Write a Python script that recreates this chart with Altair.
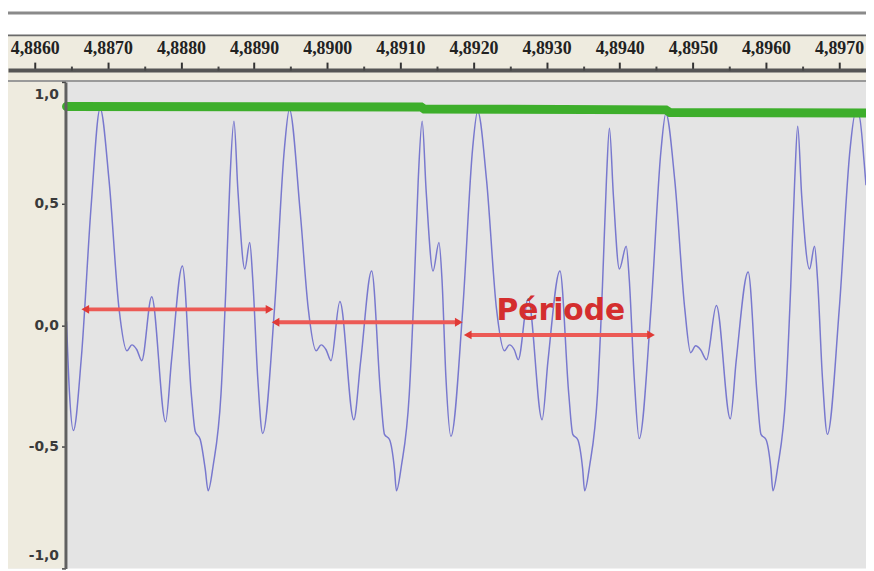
import altair as alt
import pandas as pd

# ---------------- data ----------------
wave_t = [
    4.886434, 4.886474, 4.886528, 4.886637, 4.886772, 4.886894,
    4.887016, 4.887152, 4.887260, 4.887328, 4.887396, 4.887463, 4.887599, 4.887789,
    4.887870, 4.888019, 4.888141, 4.888195, 4.888263, 4.888331, 4.888371, 4.888439,
    4.888547, 4.888615, 4.888669, 4.888724, 4.888778, 4.888873, 4.888940, 4.888981,
    4.889049, 4.889117, 4.889279, 4.889415, 4.889482,
    4.889631, 4.889740, 4.889848, 4.889916, 4.889984, 4.890051, 4.890173, 4.890363,
    4.890458, 4.890607, 4.890729, 4.890783, 4.890851, 4.890919, 4.890946, 4.891014,
    4.891122, 4.891190, 4.891244, 4.891298, 4.891352, 4.891447, 4.891528, 4.891569,
    4.891623, 4.891691, 4.891854, 4.891989, 4.892057,
    4.892179, 4.892314, 4.892423, 4.892490, 4.892558, 4.892612, 4.892748, 4.892938,
    4.893019, 4.893182, 4.893303, 4.893358, 4.893425, 4.893493, 4.893520, 4.893588,
    4.893696, 4.893764, 4.893818, 4.893859, 4.893913, 4.893995, 4.894089, 4.894130,
    4.894198, 4.894266, 4.894428, 4.894564, 4.894631,
    4.894753, 4.894889, 4.894970, 4.895038, 4.895106, 4.895187, 4.895322, 4.895512,
    4.895593, 4.895756, 4.895878, 4.895932, 4.896000, 4.896068, 4.896095, 4.896163,
    4.896271, 4.896339, 4.896393, 4.896434, 4.896488, 4.896596, 4.896664, 4.896705,
    4.896772, 4.896840, 4.897003, 4.897152, 4.897219, 4.897274, 4.897341, 4.897368,
]
wave_v = [
    0.016, -0.275, -0.433, -0.134, 0.494, 0.891,
    0.595, 0.069, -0.105, -0.081, -0.101, -0.146, 0.117, -0.397,
    -0.146, 0.243, -0.283, -0.437, -0.470, -0.591, -0.681, -0.579,
    -0.283, 0.162, 0.595, 0.838, 0.555, 0.231, 0.340, 0.190,
    -0.215, -0.445, 0.069, 0.729, 0.887,
    0.462, 0.069, -0.105, -0.081, -0.101, -0.146, 0.097, -0.389,
    -0.146, 0.223, -0.283, -0.449, -0.470, -0.591, -0.681, -0.579,
    -0.283, 0.162, 0.595, 0.838, 0.555, 0.223, 0.340, 0.190,
    -0.215, -0.457, 0.069, 0.729, 0.879,
    0.595, 0.069, -0.105, -0.081, -0.101, -0.142, 0.109, -0.389,
    -0.146, 0.223, -0.283, -0.449, -0.470, -0.591, -0.681, -0.579,
    -0.283, 0.162, 0.595, 0.810, 0.534, 0.231, 0.324, 0.190,
    -0.215, -0.466, 0.069, 0.717, 0.870,
    0.595, 0.069, -0.113, -0.085, -0.101, -0.142, 0.081, -0.385,
    -0.146, 0.219, -0.283, -0.449, -0.470, -0.591, -0.681, -0.579,
    -0.283, 0.162, 0.595, 0.818, 0.534, 0.231, 0.324, 0.190,
    -0.215, -0.449, 0.069, 0.729, 0.866, 0.860, 0.676, 0.575,
]

green_t = [4.886434, 4.891285, 4.891325, 4.894631, 4.894686, 4.897368]
green_v = [0.899, 0.897, 0.889, 0.885, 0.874, 0.872]

arrow_start = [4.886691, 4.889293, 4.891921]
arrow_end = [4.889211, 4.891799, 4.894428]
arrow_v = [0.065, 0.012, -0.040]

label_text = ["Période"]
label_t = [4.893195]
label_v = [0.020]

x_major = [4.886, 4.887, 4.888, 4.889, 4.890, 4.891, 4.892, 4.893, 4.894, 4.895, 4.896, 4.897]
x_minor = [4.8865, 4.8875, 4.8885, 4.8895, 4.8905, 4.8915, 4.8925, 4.8935, 4.8945, 4.8955, 4.8965]
y_ticks = [-1.0, -0.5, 0.0, 0.5, 1.0]

X_DOMAIN = [4.885634, 4.897368]
Y_DOMAIN = [-1.0, 1.0]

# ---------------- layout ----------------
W, H = 866, 491
TOP = 72

wave_df = pd.DataFrame({"t": wave_t, "v": wave_v})
green_df = pd.DataFrame({"t": green_t, "v": green_v})
arrow_df = pd.DataFrame({"t": arrow_start, "t2": arrow_end, "v": arrow_v})
heads_df = pd.DataFrame({
    "t": arrow_start + arrow_end,
    "v": arrow_v + arrow_v,
    "shape": ["triangle-left"] * 3 + ["triangle-right"] * 3,
})
label_df = pd.DataFrame({"t": label_t, "v": label_v, "txt": label_text})
one = pd.DataFrame({"a": [0]})

xs = alt.Scale(domain=X_DOMAIN, nice=False, zero=False)
ys = alt.Scale(domain=Y_DOMAIN, nice=False, zero=False)

major_axis = alt.Axis(
    orient="top", values=x_major, title=None, grid=False, offset=12,
    labelExpr="replace(format(datum.value, '.4f'), '.', ',')",
    tickSize=8, tickWidth=2, tickColor="#333333",
    domainColor="#555555", domainWidth=4,
    labelFont="Liberation Serif", labelFontSize=18, labelFontWeight="bold",
    labelColor="#222222", labelPadding=5, labelOverlap=False, zindex=1,
)
minor_axis = alt.Axis(
    orient="top", values=x_minor, title=None, grid=False, offset=12,
    labels=False, domain=False, tickSize=4, tickWidth=2, tickColor="#444444",
    zindex=1,
)
y_axis = alt.Axis(
    orient="left", offset=-58, values=y_ticks, title=None, grid=False,
    labelExpr="(datum.value < 0 ? '-' : '') + replace(format(abs(datum.value), '.1f'), '.', ',')",
    tickSize=4, tickWidth=1.5, tickColor="#444444",
    domainColor="#606060", domainWidth=3,
    labelFont="DejaVu Sans", labelFontSize=14, labelFontWeight="bold",
    labelColor="#3a3a3a", labelPadding=3, labelFlush=True, labelFlushOffset=-6,
    zindex=1,
)


def yenc(field="v"):
    return alt.Y(f"{field}:Q", scale=ys, axis=y_axis)


def deco(color, x0, x1, y0, y1):
    return alt.Chart(one).mark_rect(color=color).encode(
        x=alt.value(x0), x2=alt.value(x1), y=alt.value(y0), y2=alt.value(y1)
    )


left_panel = deco("#EEEBDF", 0, 58, 0, H)
ruler_bg = deco("#EEEBDF", 0, W, -47, -2)
white_box = deco("#FFFFFF", 0, W, -72, -47)
top_border = deco("#8A8A8A", 0, W, -71, -68)
ruler_top = deco("#6A6A6A", 0, W, -48, -46)
plot_top = deco("#9A9A9A", 0, W, -2, 0)

wave = alt.Chart(wave_df).mark_line(
    color="#7878CE", strokeWidth=1.5, interpolate="monotone"
).encode(
    x=alt.X("t:Q", scale=xs, axis=major_axis),
    y=yenc(),
)

green = alt.Chart(green_df).mark_line(
    color="#3DAE2B", strokeWidth=9, strokeCap="round"
).encode(
    x=alt.X("t:Q", scale=xs, axis=minor_axis),
    y=yenc(),
)

arrows = alt.Chart(arrow_df).mark_rule(color="#EC5A55", strokeWidth=4).encode(
    x=alt.X("t:Q", scale=xs, axis=None),
    x2="t2:Q",
    y=yenc(),
)

heads = alt.Chart(heads_df).mark_point(
    filled=True, size=80, color="#E03A36", opacity=1
).encode(
    x=alt.X("t:Q", scale=xs, axis=None),
    y=yenc(),
    shape=alt.Shape("shape:N", scale=None, legend=None),
)

label = alt.Chart(label_df).mark_text(
    font="DejaVu Sans", fontSize=30, fontWeight="bold", color="#D42E2E",
    align="center", baseline="alphabetic",
).encode(
    x=alt.X("t:Q", scale=xs, axis=None),
    y=yenc(),
    text="txt:N",
)

chart = alt.layer(
    left_panel, ruler_bg, white_box, top_border, ruler_top, plot_top,
    wave, green, arrows, heads, label,
).resolve_axis(x="independent").properties(
    width=W, height=H,
    padding={"top": TOP, "left": 0, "right": 0, "bottom": 0},
    autosize=alt.AutoSizeParams(type="none"),
    background="#FFFFFF",
).configure_view(stroke=None, fill="#E4E4E4")

chart.save("out.html", embed_options={"renderer": "svg", "actions": False})
